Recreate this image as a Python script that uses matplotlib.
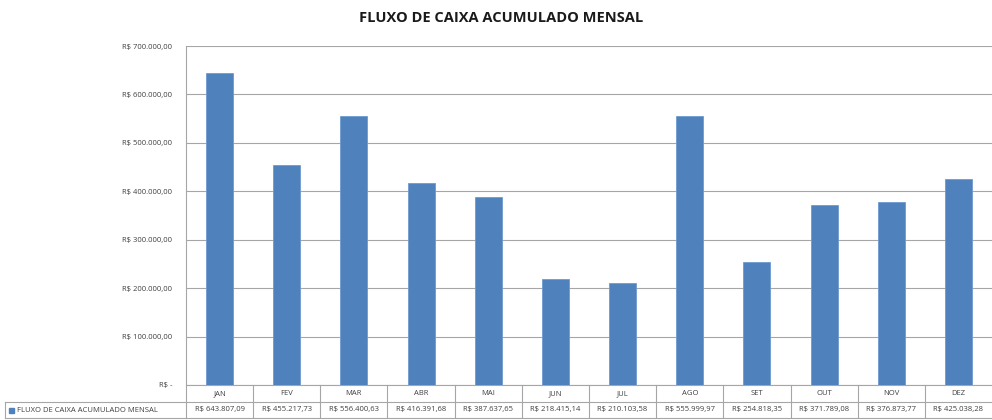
import matplotlib
matplotlib.use('Agg')
import matplotlib.pyplot as plt
from matplotlib.ticker import FuncFormatter
from matplotlib.patches import Rectangle

meses = ['JAN', 'FEV', 'MAR', 'ABR', 'MAI', 'JUN', 'JUL', 'AGO', 'SET', 'OUT', 'NOV', 'DEZ']
fluxo = [643807.09, 455217.73, 556400.63, 416391.68, 387637.65, 218415.14,
         210103.58, 555999.97, 254818.35, 371789.08, 376873.77, 425038.28]
serie = 'FLUXO DE CAIXA ACUMULADO MENSAL'
cor = '#4F81BD'


def brl(v):
    s = '{:,.2f}'.format(v)
    s = s.replace(',', 'X').replace('.', ',').replace('X', '.')
    return 'R$ ' + s


def fmt_eixo(v, pos):
    if v == 0:
        return 'R$ -'
    return brl(v)


plt.rcParams['font.family'] = ['Open Sans', 'DejaVu Sans']

fig = plt.figure(figsize=(9.92, 4.2), dpi=100)
ax = fig.add_axes([186 / 992, 1 - 385 / 420, 1 - 186 / 992, (385 - 46) / 420])

x = list(range(len(meses)))
ax.bar(x, fluxo, width=0.4, color=cor, edgecolor='#6f9bd0', linewidth=0.6, zorder=3)
ax.set_xlim(-0.5, len(meses) - 0.5)
ax.set_ylim(0, 700000)
ax.set_yticks(range(0, 700001, 100000))
ax.yaxis.set_major_formatter(FuncFormatter(fmt_eixo))
ax.tick_params(axis='y', labelsize=5.5, colors='#404040', length=0, pad=10)
ax.set_xticks([])
ax.grid(axis='y', color='#a6a6a6', linewidth=0.8, zorder=0)
for lado in ['top', 'right']:
    ax.spines[lado].set_visible(False)
ax.spines['left'].set_color('#a6a6a6')
ax.spines['bottom'].set_color('#a6a6a6')

fig.text(501 / 992, 1 - 18 / 420, serie, ha='center', va='center',
         fontsize=10.5, fontweight='bold', color='#1a1a1a')

# tabela de dados abaixo do eixo
trans = ax.get_xaxis_transform()
h = (385 - 46) / 420
y_mes = -(8.5 / 420) / h
y_val = -(25 / 420) / h
y_meio = -(17 / 420) / h
y_fim = -(33 / 420) / h
linha = dict(color='#a6a6a6', linewidth=0.8, clip_on=False, transform=trans)
for i, (m, v) in enumerate(zip(meses, fluxo)):
    ax.text(i, y_mes, m, ha='center', va='center', fontsize=5.5, color='#404040',
            transform=trans, clip_on=False)
    ax.text(i, y_val, brl(v), ha='center', va='center', fontsize=5.5, color='#404040',
            transform=trans, clip_on=False)
    ax.plot([i - 0.5, i - 0.5], [0, y_fim], **linha)
ax.plot([-0.5, len(meses) - 0.5], [y_meio, y_meio], **linha)
ax.plot([-0.5, len(meses) - 0.5], [y_fim, y_fim], **linha)

# celula do rotulo da serie
fy = lambda py: 1 - py / 420
fig.add_artist(plt.Line2D([5 / 992, 186 / 992], [fy(402), fy(402)], color='#a6a6a6', linewidth=0.8))
fig.add_artist(plt.Line2D([5 / 992, 186 / 992], [fy(418), fy(418)], color='#a6a6a6', linewidth=0.8))
fig.add_artist(plt.Line2D([5 / 992, 5 / 992], [fy(402), fy(418)], color='#a6a6a6', linewidth=0.8))
fig.add_artist(Rectangle((9 / 992, fy(412.5)), 5 / 992, 5 / 420, color=cor))
fig.text(17 / 992, fy(410), serie, ha='left', va='center', fontsize=5.5, color='#404040')

fig.savefig('out.png', dpi=100)
